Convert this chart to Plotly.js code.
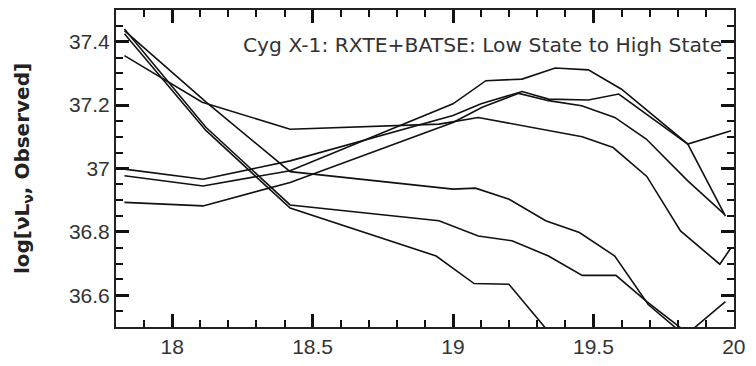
<!DOCTYPE html>
<html>
<head>
<meta charset="utf-8">
<script src="https://cdn.plot.ly/plotly-3.0.1.min.js"></script>
<style>html,body{margin:0;padding:0;background:#fff;}#chart{width:756px;height:366px;}</style>
</head>
<body>
<div id="chart"></div>
<script>
// log(photon energy / Hz) grid points and log(nu L_nu) values for each observation
const x1 = [17.83, 18.12, 18.42, 19.0, 19.08, 19.2, 19.33, 19.45, 19.576, 19.695, 19.836];
const y1 = [37.435, 37.21, 36.99, 36.935, 36.938, 36.903, 36.835, 36.798, 36.724, 36.571, 36.465];

const x2 = [17.83, 18.12, 18.42, 18.95, 19.09, 19.21, 19.34, 19.46, 19.58, 19.69, 19.836, 19.97];
const y2 = [37.44, 37.13, 36.885, 36.835, 36.787, 36.772, 36.724, 36.663, 36.663, 36.58, 36.48, 36.58];

const x3 = [17.83, 18.12, 18.42, 18.94, 19.075, 19.199, 19.328, 19.45];
const y3 = [37.425, 37.12, 36.875, 36.724, 36.637, 36.635, 36.498, 36.37];

const x4 = [17.83, 18.107, 18.42, 18.95, 19.09, 19.22, 19.34, 19.46, 19.57, 19.69, 19.81, 19.95, 19.99];
const y4 = [37.356, 37.209, 37.124, 37.14, 37.161, 37.14, 37.119, 37.1, 37.066, 36.975, 36.803, 36.698, 36.75];

const x5 = [17.83, 18.11, 18.42, 19.0, 19.117, 19.246, 19.364, 19.482, 19.6, 19.836, 19.97];
const y5 = [36.977, 36.945, 36.993, 37.204, 37.277, 37.282, 37.317, 37.311, 37.25, 37.077, 36.85];

const x6 = [17.83, 18.11, 18.42, 19.0, 19.1, 19.246, 19.34, 19.482, 19.59, 19.836, 19.99];
const y6 = [36.998, 36.966, 37.024, 37.167, 37.204, 37.243, 37.219, 37.216, 37.235, 37.077, 37.119];

const x7 = [17.83, 18.11, 18.42, 19.0, 19.104, 19.234, 19.34, 19.458, 19.576, 19.688, 19.836, 19.966];
const y7 = [36.893, 36.882, 36.956, 37.145, 37.193, 37.237, 37.214, 37.198, 37.161, 37.093, 36.961, 36.856];

const xRange = [17.8, 20.0005], yRange = [36.5, 37.5];
const xTickStep = 0.5, xMinorStep = 0.1;
const yTickStep = 0.2, yMinorStep = 0.05;

const W = 756, H = 366, M = {l: 116, r: 22, t: 10, b: 39};
const AX = '#111';

const series = [[x1, y1], [x2, y2], [x3, y3], [x4, y4], [x5, y5], [x6, y6], [x7, y7]];
const traces = series.map(s => ({
  x: s[0], y: s[1], type: 'scatter', mode: 'lines',
  line: {color: '#111', width: 1.6}, hoverinfo: 'skip'
}));

const tickFont = {family: 'Liberation Sans, Arial, sans-serif', size: 21, color: '#333'};

const layout = {
  width: W, height: H,
  margin: M,
  paper_bgcolor: '#fff', plot_bgcolor: '#fff',
  showlegend: false,
  title: {
    text: 'Cyg X-1: RXTE+BATSE: Low State to High State',
    font: {family: 'DejaVu Sans, sans-serif', size: 20.3, color: '#333'},
    xref: 'paper', yref: 'paper', x: 0.981, xanchor: 'right', y: 0.889, yanchor: 'middle'
  },
  xaxis: {
    range: xRange, tickmode: 'linear', tick0: 0, dtick: xTickStep,
    ticks: 'inside', ticklen: 13, tickwidth: 2.6, tickcolor: AX,
    minor: {dtick: xMinorStep, ticks: 'inside', ticklen: 7, tickwidth: 2.4, tickcolor: AX},
    showline: true, linecolor: '#222', linewidth: 2, mirror: 'ticks',
    showgrid: false, zeroline: false, tickfont: tickFont
  },
  yaxis: {
    range: yRange, tickmode: 'linear', tick0: 0, dtick: yTickStep,
    ticks: 'inside', ticklen: 13, tickwidth: 2.6, tickcolor: AX,
    minor: {dtick: yMinorStep, ticks: 'inside', ticklen: 7, tickwidth: 2.4, tickcolor: AX},
    showline: true, linecolor: '#222', linewidth: 2, mirror: 'ticks',
    showgrid: false, zeroline: false, tickfont: tickFont,
    title: {
      text: '<b>log[νL<sub>ν</sub>, Observed]</b>',
      font: {family: 'DejaVu Sans, sans-serif', size: 20, color: '#222'},
      standoff: 34
    }
  }
};

Plotly.newPlot('chart', traces, layout, {displayModeBar: false});
</script>
</body>
</html>
